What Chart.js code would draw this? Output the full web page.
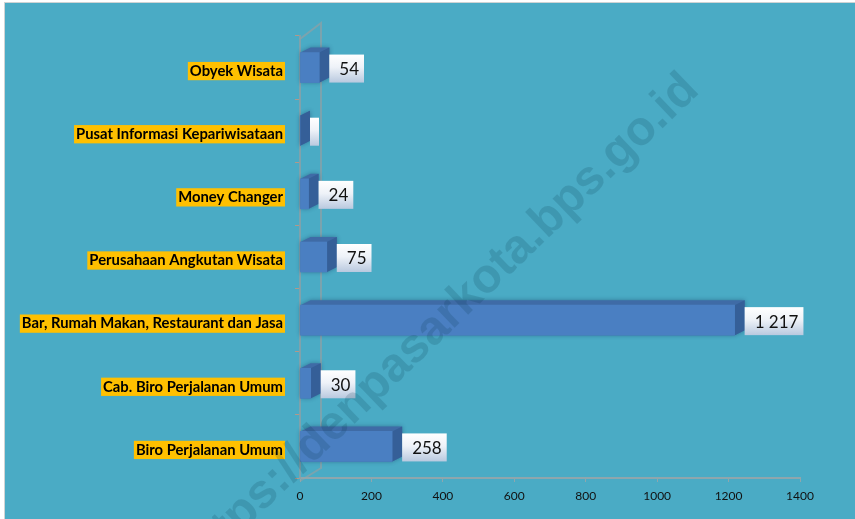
<!DOCTYPE html>
<html>
<head>
<meta charset="utf-8">
<script src="https://cdn.jsdelivr.net/npm/chart.js@4.4.1/dist/chart.umd.min.js"></script>
<style>
  html, body { margin: 0; padding: 0; background: #ffffff; }
  #wrap { width: 855px; height: 519px; }
</style>
</head>
<body>
<div id="wrap"><canvas id="c" width="855" height="519"></canvas></div>
<script>
// ---- data ----
const categories = [
  'Obyek Wisata',
  'Pusat Informasi Kepariwisataan',
  'Money Changer',
  'Perusahaan Angkutan Wisata',
  'Bar, Rumah Makan, Restaurant dan Jasa',
  'Cab. Biro Perjalanan Umum',
  'Biro Perjalanan Umum'
];
const values = [54, 0, 24, 75, 1217, 30, 258];
const valueLabels = ['54', '', '24', '75', '1 217', '30', '258'];
const xTickMin = 0;
const xTickMax = 1400;
const xTickStep = 200;
const watermark = 'https://denpasarkota.bps.go.id';

// ---- style ----
const BG = '#4aabc5';
const DX = 10, DY = 5;

const backgroundPlugin = {
  id: 'bg',
  beforeDraw(chart) {
    const ctx = chart.ctx;
    ctx.save();
    ctx.fillStyle = '#ffffff';
    ctx.fillRect(0, 0, chart.width, chart.height);
    ctx.fillStyle = BG;
    ctx.fillRect(5, 3, chart.width - 5, chart.height - 3);
    ctx.fillStyle = '#cfd3d4';
    ctx.fillRect(4, 2, chart.width - 4, 1);
    ctx.fillRect(4, 2, 1, chart.height - 2);
    const a = chart.chartArea;
    ctx.strokeStyle = 'rgba(140,160,165,0.75)';
    ctx.lineWidth = 2;
    ctx.beginPath();
    ctx.moveTo(a.left, a.top + 3);
    ctx.lineTo(a.left + 21, a.top - 13);
    ctx.lineTo(a.left + 21, a.bottom - 10);
    ctx.lineTo(a.left, a.bottom + 3);
    ctx.stroke();
    ctx.restore();
  }
};

const box3dPlugin = {
  id: 'box3d',
  beforeDatasetsDraw(chart) {
    const ctx = chart.ctx;
    const meta = chart.getDatasetMeta(0);
    ctx.save();
    meta.data.forEach(bar => {
      const x0 = bar.base, x1 = bar.x;
      const y0 = bar.y - bar.height / 2, y1 = bar.y + bar.height / 2;
      ctx.shadowColor = 'rgba(20,50,90,0.45)';
      ctx.shadowBlur = 4;
      ctx.fillStyle = '#3f6ba6';
      ctx.beginPath();
      ctx.moveTo(x0, y0);
      ctx.lineTo(x0 + DX, y0 - DY);
      ctx.lineTo(x1 + DX, y0 - DY);
      ctx.lineTo(x1 + DX, y1 - DY);
      ctx.lineTo(x1, y1);
      ctx.lineTo(x0, y1);
      ctx.closePath();
      ctx.fill();
      ctx.shadowBlur = 0;
      ctx.fillStyle = '#355f98';
      ctx.beginPath();
      ctx.moveTo(x1, y0);
      ctx.lineTo(x1 + DX, y0 - DY);
      ctx.lineTo(x1 + DX, y1 - DY);
      ctx.lineTo(x1, y1);
      ctx.closePath();
      ctx.fill();
    });
    ctx.restore();
  },
  afterDatasetsDraw(chart) {
    const ctx = chart.ctx;
    const meta = chart.getDatasetMeta(0);
    ctx.save();
    ctx.font = '17px Lato';
    ctx.textBaseline = 'middle';
    meta.data.forEach((bar, i) => {
      const t = valueLabels[i];
      const w = t ? ctx.measureText(t).width + 15 : 9;
      const h = 28;
      const bx = bar.x + 10;
      const by = bar.y + 1 - h / 2;
      const g = ctx.createLinearGradient(0, by, 0, by + h);
      g.addColorStop(0, '#ffffff');
      g.addColorStop(0.45, '#eef2f8');
      g.addColorStop(1, '#b9c9df');
      ctx.fillStyle = g;
      ctx.fillRect(bx, by, w, h);
      ctx.fillStyle = '#111111';
      ctx.textAlign = 'left';
      ctx.fillText(t, bx + 10, by + h / 2 + 1);
    });
    ctx.restore();
  }
};

const watermarkPlugin = {
  id: 'wm',
  afterDraw(chart) {
    const ctx = chart.ctx;
    ctx.save();
    ctx.font = 'bold 48px "Liberation Sans", Arial, sans-serif';
    const cut = watermark.lastIndexOf('.');
    const prefixW = ctx.measureText(watermark.slice(0, cut)).width + ctx.measureText('.').width / 2;
    ctx.translate(665, 126);
    ctx.rotate(-43.8 * Math.PI / 180);
    ctx.textAlign = 'left';
    ctx.textBaseline = 'alphabetic';
    ctx.fillStyle = 'rgba(0,50,70,0.16)';
    ctx.fillText(watermark, -prefixW, 0);
    ctx.restore();
  }
};

const ctx = document.getElementById('c').getContext('2d');
new Chart(ctx, {
  type: 'bar',
  data: {
    labels: categories,
    datasets: [{
      data: values,
      backgroundColor: (c) => {
        const el = c.element;
        const chart = c.chart;
        if (!chart.chartArea || !el || !Number.isFinite(el.y)) return '#4a7fc2';
        const y = el.y, hh = 15;
        const g = chart.ctx.createLinearGradient(0, y - hh, 0, y + hh);
        g.addColorStop(0, '#4676b6');
        g.addColorStop(0.25, '#4f84c7');
        g.addColorStop(0.75, '#4b7fc1');
        g.addColorStop(1, '#3c67a4');
        return g;
      },
      borderWidth: 0,
      barThickness: 30
    }]
  },
  options: {
    indexAxis: 'y',
    responsive: false,
    animation: false,
    devicePixelRatio: 1,
    layout: { padding: { top: 36, right: 55, left: 0, bottom: 0 } },
    plugins: { legend: { display: false }, tooltip: { enabled: false } },
    scales: {
      x: {
        min: xTickMin, max: xTickMax,
        ticks: {
          stepSize: xTickStep, color: '#111111', font: { family: 'Lato', size: 12 }, padding: 7, maxRotation: 0,
          callback: (v) => String(v)
        },
        grid: { drawOnChartArea: false, drawTicks: true, tickLength: 4, color: 'rgba(150,165,170,0.9)' },
        border: { display: true, color: 'rgba(150,165,170,0.9)', width: 2 },
        afterFit(s) { s.height = 41; }
      },
      y: {
        ticks: {
          color: '#000000',
          font: { family: 'Lato', size: 14.8, weight: 'bold', lineHeight: 1.1 },
          padding: 12,
          labelOffset: 3.5,
          showLabelBackdrop: true,
          backdropColor: '#ffc000',
          backdropPadding: { top: 1, bottom: 1, left: 2, right: 2 }
        },
        grid: { drawOnChartArea: false, drawTicks: true, tickLength: 5, color: 'rgba(190,150,130,0.9)' },
        border: { display: true, color: 'rgba(140,160,165,0.8)', width: 2 },
        afterFit(s) { s.width = 300; }
      }
    }
  },
  plugins: [backgroundPlugin, box3dPlugin, watermarkPlugin]
});
</script>
</body>
</html>
